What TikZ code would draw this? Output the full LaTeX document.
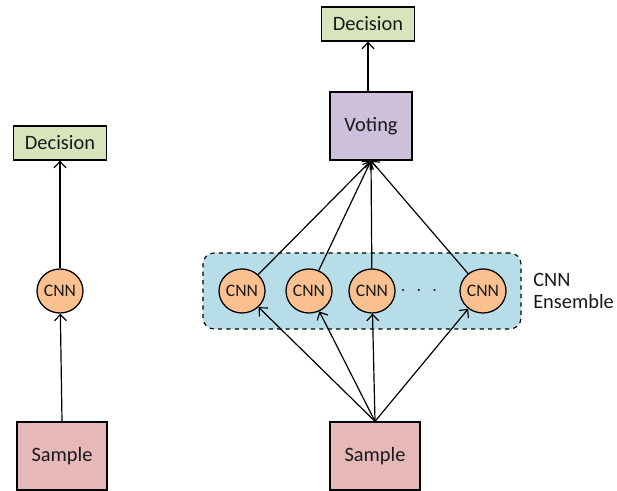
\documentclass[tikz,border=0pt]{standalone}
\usepackage{fontspec}
\setmainfont{Carlito}
\usetikzlibrary{shapes.geometric,arrows.meta}
\definecolor{decisiongreen}{RGB}{216,228,188}
\definecolor{cnnorange}{RGB}{250,192,144}
\definecolor{samplered}{RGB}{230,184,183}
\definecolor{votingpurple}{RGB}{204,192,218}
\definecolor{ensembleblue}{RGB}{183,222,232}

\tikzset{
  every node/.style={font=\fontsize{14.5}{15.5}\selectfont, text=black!90},
  decisionbox/.style={draw, line width=0.9pt, fill=decisiongreen, minimum width=2.32cm, minimum height=0.85cm},
  samplebox/.style={draw, line width=0.9pt, fill=samplered, minimum width=2.25cm, minimum height=1.7cm},
  votingbox/.style={draw, line width=0.9pt, fill=votingpurple, minimum width=2.05cm, minimum height=1.7cm},
  cnnnode/.style={ellipse, draw, line width=0.9pt, fill=cnnorange, minimum width=1.15cm, minimum height=1.1cm, inner sep=0pt, font=\fontsize{12.5}{14}\selectfont},
  ensemblebox/.style={draw, dashed, line width=0.8pt, fill=ensembleblue, rounded corners=0.28cm, minimum width=7.95cm, minimum height=1.9cm},
  flow/.style={line width=0.85pt, -{Straight Barb[length=4.5pt,width=8.5pt]}}
}

\begin{document}
\begin{tikzpicture}[x=0.025cm, y=0.025cm]

    % page size of the reference
    \useasboundingbox (0,0) rectangle (617,491);

    % constants
    \def\ycnn{200}

    % single network (left)
    \node[decisionbox] (decisionL) at (60,348) {Decision};
    \node[cnnnode] (cnnL) at (60,\ycnn) {CNN};
    \node[samplebox] (sampleL) at (62,35) {Sample};

    \draw[flow] (sampleL.north) -- (cnnL);
    \draw[flow] (cnnL) -- (decisionL.south);

    % ensemble (right)
    \node[ensemblebox] (ensemble) at (362,\ycnn) {};
    \node[right, align=left, inner sep=0pt] (enslabel) at (533,\ycnn) {CNN\\Ensemble};

    \node[decisionbox] (decisionR) at (368,467) {Decision};
    \node[votingbox] (voting) at (371,365) {Voting};
    \node[samplebox] (sampleR) at (375,35) {Sample};

    \node[cnnnode] (cnn1) at (242,\ycnn) {CNN};
    \node[cnnnode] (cnn2) at (309,\ycnn) {CNN};
    \node[cnnnode] (cnn3) at (372,\ycnn) {CNN};
    \node (dots) at (419,\ycnn) {$\cdot\;\cdot\;\cdot$};
    \node[cnnnode] (cnn4) at (483,\ycnn) {CNN};

    \foreach \c in {cnn1,cnn2,cnn3,cnn4} {
        \draw[flow] (sampleR.north) -- (\c);
        \draw[flow] (\c) -- (voting.south);
    }
    \draw[flow] (voting.north -| decisionR.south) -- (decisionR.south);

\end{tikzpicture}
\end{document}
